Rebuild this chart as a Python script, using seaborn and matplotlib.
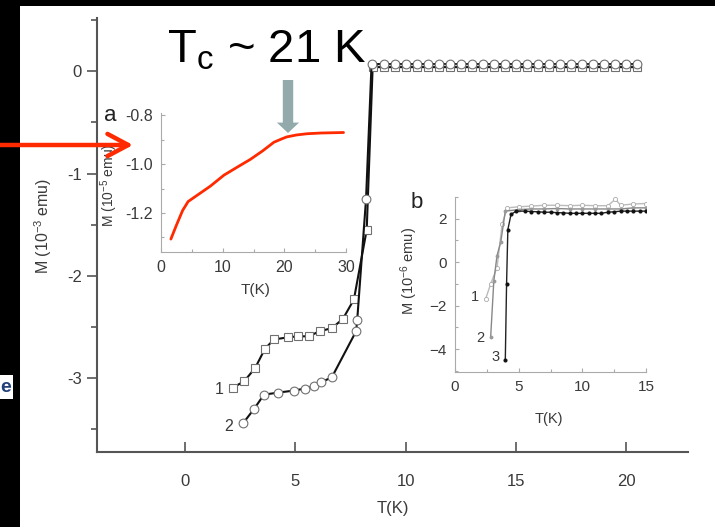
import matplotlib
matplotlib.use("Agg")
import matplotlib.pyplot as plt
import seaborn as sns
import pandas as pd
from matplotlib.patches import Rectangle
from matplotlib.ticker import MultipleLocator

# ---------------- data ----------------
# main panel, curve 1 (squares)
sq_T = [2.17, 2.67, 3.17, 3.62, 4.03, 4.66, 5.11, 5.6, 6.1, 6.65, 7.15, 7.65, 8.23,
        8.5, 9.0, 9.5, 10.0, 10.5, 11.0, 11.5, 12.0, 12.5, 13.0, 13.5, 14.0, 14.5,
        15.0, 15.5, 16.0, 16.5, 17.0, 17.5, 18.0, 18.5, 19.0, 19.5, 20.0, 20.5]
sq_M = [-3.09, -3.03, -2.90, -2.71, -2.62, -2.60, -2.59, -2.59, -2.54, -2.51, -2.42, -2.23, -1.55,
        0.04, 0.04, 0.04, 0.04, 0.04, 0.04, 0.04, 0.04, 0.04, 0.04, 0.04, 0.04, 0.04,
        0.04, 0.04, 0.04, 0.04, 0.04, 0.04, 0.04, 0.04, 0.04, 0.04, 0.04, 0.04]
# main panel, curve 2 (circles)
ci_T = [2.62, 3.12, 3.57, 4.2, 4.93, 5.43, 5.84, 6.15, 6.65, 7.75, 7.8, 8.2,
        8.45, 9.0, 9.5, 10.0, 10.5, 11.0, 11.5, 12.0, 12.5, 13.0, 13.5, 14.0, 14.5,
        15.0, 15.5, 16.0, 16.5, 17.0, 17.5, 18.0, 18.5, 19.0, 19.5, 20.0, 20.5]
ci_M = [-3.44, -3.30, -3.16, -3.14, -3.12, -3.10, -3.08, -3.04, -2.99, -2.54, -2.43, -1.25,
        0.07, 0.07, 0.07, 0.07, 0.07, 0.07, 0.07, 0.07, 0.07, 0.07, 0.07, 0.07, 0.07,
        0.07, 0.07, 0.07, 0.07, 0.07, 0.07, 0.07, 0.07, 0.07, 0.07, 0.07, 0.07]

# inset a (red curve)
a_T = [1.6, 2.5, 3.5, 4.4, 6.0, 8.0, 10.2, 12.5, 14.5, 16.5, 18.3, 19.5, 20.4, 22.0, 23.7, 26.0, 29.6]
a_M = [-1.307, -1.25, -1.19, -1.153, -1.125, -1.09, -1.045, -1.01, -0.98, -0.945, -0.91, -0.897,
       -0.888, -0.88, -0.875, -0.872, -0.870]

# inset b, curves 1-3
b1_T = [2.4, 2.8, 3.3, 3.7, 4.1, 5.0, 6.0, 7.0, 8.0, 9.0, 10.0, 11.0, 12.0, 12.6, 13.0, 14.0, 15.0]
b1_M = [-1.7, -1.0, -0.25, 1.75, 2.5, 2.55, 2.58, 2.62, 2.62, 2.6, 2.62, 2.6, 2.6, 2.9, 2.62, 2.68, 2.7]
b2_T = [2.8, 3.05, 3.3, 3.6, 3.95, 5.0, 6.0, 7.0, 8.0, 9.0, 10.0, 11.0, 12.0, 13.0, 14.0, 15.0]
b2_M = [-3.45, -0.85, 0.3, 0.95, 2.35, 2.42, 2.45, 2.45, 2.47, 2.45, 2.45, 2.45, 2.45, 2.45, 2.5, 2.5]
b3_T = [3.95, 4.05, 4.15, 4.4, 4.8, 5.5, 6.0, 6.5, 7.0, 7.5, 8.0, 8.5, 9.0, 9.5, 10.0, 10.5,
        11.0, 11.5, 12.0, 12.5, 13.0, 13.5, 14.0, 14.5, 15.0]
b3_M = [-4.5, -1.0, 1.5, 2.2, 2.35, 2.35, 2.33, 2.32, 2.3, 2.3, 2.28, 2.27, 2.25, 2.25, 2.25, 2.25,
        2.25, 2.25, 2.3, 2.32, 2.35, 2.35, 2.35, 2.35, 2.35]

main_xticks = [0, 5, 10, 15, 20]
main_yticks = [0, -1, -2, -3]
a_xticks = [0, 10, 20, 30]
a_yticks = [-0.8, -1.0, -1.2]
b_xticks = [0, 5, 10, 15]
b_yticks = [2, 0, -2, -4]

# ---------------- style ----------------
sns.set_theme(style="ticks")
plt.rcParams['font.family'] = ['Liberation Sans', 'DejaVu Sans']
plt.rcParams['mathtext.default'] = 'regular'
TXT = '#3a3a3a'

fig = plt.figure(figsize=(7.15, 5.27), dpi=100)
fig.patch.set_facecolor('white')

W, H = 715, 527
def rect(l, t, r, b):
    return [l / W, 1 - b / H, (r - l) / W, (b - t) / H]

# ---------------- main axes ----------------
ax = fig.add_axes(rect(97, 18, 688, 452))
ax.set_facecolor('none')
df_sq = pd.DataFrame({'T': sq_T, 'M': sq_M})
df_ci = pd.DataFrame({'T': ci_T, 'M': ci_M})
sns.lineplot(data=df_sq, x='T', y='M', sort=False, ax=ax, color='#111111', lw=1.5,
             marker='s', markersize=6, markerfacecolor='white', markeredgecolor='#707070',
             markeredgewidth=0.8)
sns.lineplot(data=df_ci, x='T', y='M', sort=False, ax=ax, color='#111111', lw=1.5,
             marker='o', markersize=6.3, markerfacecolor='white', markeredgecolor='#707070',
             markeredgewidth=0.8)
ax.set_xlim(-4, 22.8)
ax.set_ylim(-3.72, 0.52)
ax.set_xticks(main_xticks)
ax.set_yticks(main_yticks)
ax.set_yticklabels([str(v) for v in main_yticks])
ax.yaxis.set_minor_locator(MultipleLocator(0.5))
for s in ['top', 'right']:
    ax.spines[s].set_visible(False)
for s in ['left', 'bottom']:
    ax.spines[s].set_color('#555555')
    ax.spines[s].set_linewidth(1.5)
ax.tick_params(axis='y', which='major', direction='out', length=7, width=1.2, color='#555555',
               labelsize=12, labelcolor=TXT, pad=4)
ax.tick_params(axis='y', which='minor', direction='out', length=4, width=1.2, color='#555555')
ax.tick_params(axis='x', which='major', direction='in', length=7, width=1.2, color='#555555',
               labelsize=12, labelcolor=TXT, pad=16)
ax.set_xlabel('T(K)', fontsize=12, color=TXT)
ax.set_ylabel('M (10$^{-3}$ emu)', fontsize=11.5, color=TXT)
ax.xaxis.set_label_coords(0.50, -0.112)
ax.yaxis.set_label_coords(-0.073, 0.52)
ax.text(1.55, -3.11, '1', fontsize=11.5, color=TXT, ha='center', va='center')
ax.text(1.95, -3.47, '2', fontsize=11.5, color=TXT, ha='center', va='center')

# ---------------- inset a ----------------
axa = fig.add_axes(rect(161, 113, 346, 252))
axa.set_facecolor('none')
sns.lineplot(x=a_T, y=a_M, ax=axa, color='#ff2a00', lw=2.0, sort=False)
axa.set_xlim(0, 30)
axa.set_ylim(-1.36, -0.79)
axa.set_xticks(a_xticks)
axa.set_yticks(a_yticks)
axa.set_yticklabels(['-0.8', '-1.0', '-1.2'])
axa.xaxis.set_minor_locator(MultipleLocator(5))
axa.yaxis.set_minor_locator(MultipleLocator(0.1))
for s in ['top', 'right']:
    axa.spines[s].set_visible(False)
for s in ['left', 'bottom']:
    axa.spines[s].set_color('#aaaaaa')
    axa.spines[s].set_linewidth(0.8)
axa.tick_params(which='major', direction='in', length=3, width=0.8, color='#aaaaaa',
                labelsize=11.5, labelcolor=TXT, pad=6)
axa.tick_params(which='minor', direction='in', length=2, width=0.8, color='#aaaaaa')
axa.set_xlabel('T(K)', fontsize=11, color=TXT)
axa.set_ylabel('M (10$^{-5}$ emu)', fontsize=10, color=TXT)
axa.xaxis.set_label_coords(0.51, -0.22)
axa.yaxis.set_label_coords(-0.22, 0.48)
axa.text(-0.275, 0.985, 'a', transform=axa.transAxes, fontsize=16, color='#222222',
         ha='center', va='center')

# ---------------- inset b ----------------
axb = fig.add_axes(rect(455, 197, 646, 372))
axb.set_facecolor('none')
sns.lineplot(x=b1_T, y=b1_M, ax=axb, sort=False, color='#bbbbbb', lw=1.0,
             marker='o', markersize=3, markerfacecolor='white', markeredgecolor='#aaaaaa',
             markeredgewidth=0.6)
sns.lineplot(x=b2_T, y=b2_M, ax=axb, sort=False, color='#888888', lw=1.0,
             marker='o', markersize=2, markerfacecolor='#999999', markeredgecolor='#999999')
sns.lineplot(x=b3_T, y=b3_M, ax=axb, sort=False, color='#222222', lw=1.0,
             marker='o', markersize=2.2, markerfacecolor='#111111', markeredgecolor='#111111')
axb.set_xlim(0, 15)
axb.set_ylim(-5.05, 3.0)
axb.set_xticks(b_xticks)
axb.set_yticks(b_yticks)
axb.xaxis.set_minor_locator(MultipleLocator(2.5))
axb.yaxis.set_minor_locator(MultipleLocator(1))
for s in ['top', 'right']:
    axb.spines[s].set_visible(False)
for s in ['left', 'bottom']:
    axb.spines[s].set_color('#aaaaaa')
    axb.spines[s].set_linewidth(0.8)
axb.tick_params(which='major', direction='in', length=3, width=0.8, color='#aaaaaa',
                labelsize=11, labelcolor=TXT, pad=6)
axb.tick_params(which='minor', direction='in', length=2, width=0.8, color='#aaaaaa')
axb.set_xlabel('T(K)', fontsize=10.5, color=TXT)
axb.set_ylabel('M (10$^{-6}$ emu)', fontsize=10.5, color=TXT)
axb.xaxis.set_label_coords(0.49, -0.23)
axb.yaxis.set_label_coords(-0.183, 0.58)
axb.text(-0.2, 0.97, 'b', transform=axb.transAxes, fontsize=16, color='#222222',
         ha='center', va='center')
axb.text(1.6, -1.6, '1', fontsize=10.5, color=TXT, ha='center', va='center')
axb.text(2.0, -3.5, '2', fontsize=10.5, color=TXT, ha='center', va='center')
axb.text(3.2, -4.35, '3', fontsize=10.5, color=TXT, ha='center', va='center')

# ---------------- overlay: frame strips, annotations ----------------
ov = fig.add_axes([0, 0, 1, 1], zorder=10)
ov.set_facecolor('none')
ov.set_xlim(0, W)
ov.set_ylim(H, 0)
ov.axis('off')
ov.add_patch(Rectangle((0, 0), 20, H, color='black', lw=0))
ov.add_patch(Rectangle((0, 0), W, 6, color='black', lw=0))
ov.add_patch(Rectangle((0, 375), 13, 24, color='white', lw=0))
ov.text(6, 388, 'e', fontsize=14, color='#23407a', ha='center', va='center',
        fontweight='bold', clip_on=True)

ov.text(167, 62, 'T$_c$ ~ 21 K', fontsize=34, color='black', ha='left', va='baseline')

ov.annotate('', xy=(288, 133), xytext=(288, 80),
            arrowprops=dict(arrowstyle='simple,head_length=7.5,head_width=16,tail_width=7.5',
                            mutation_scale=1, color='#93aaad', shrinkA=0, shrinkB=0, lw=0))
ov.annotate('', xy=(133, 145), xytext=(-5, 145),
            arrowprops=dict(arrowstyle='->,head_length=15,head_width=8',
                            mutation_scale=1, color='#ff2a00', lw=3.2,
                            shrinkA=0, shrinkB=0))

fig.savefig('out.png', dpi=100, facecolor='white')
